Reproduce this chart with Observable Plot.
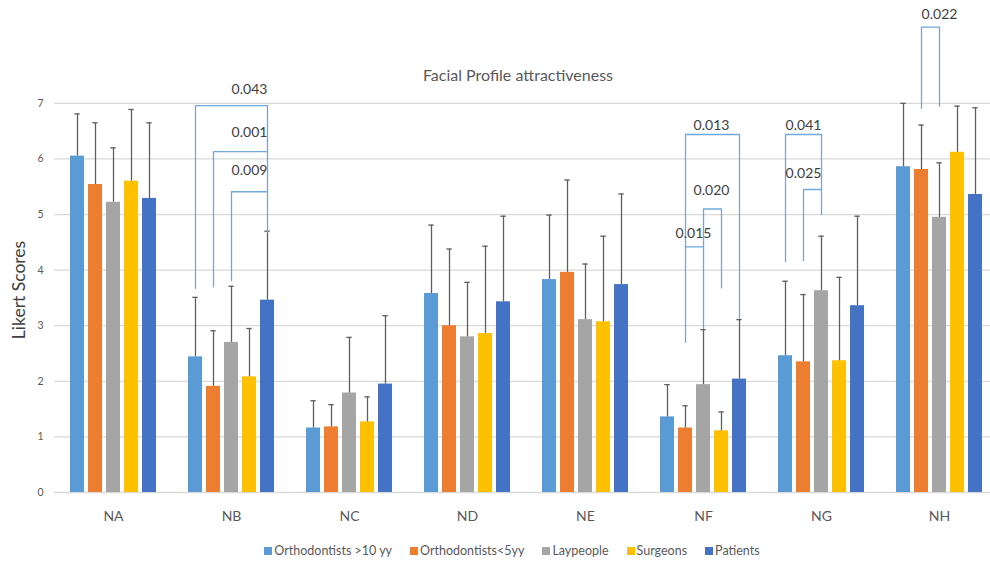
<!DOCTYPE html>
<html>
<head>
<meta charset="utf-8">
<script src="https://cdn.jsdelivr.net/npm/d3@7"></script>
<script src="https://cdn.jsdelivr.net/npm/@observablehq/plot@0.6"></script>
<style>
  html, body { margin: 0; padding: 0; background: #fff; }
  #wrap { position: relative; width: 990px; height: 563px; font-family: Lato, "Open Sans", sans-serif; }
  #title { position: absolute; left: 0; width: 1036px; top: 65px; text-align: center; font-size: 16px; color: #595959; }
  #ylabel { position: absolute; left: 18px; top: 290px; transform: translate(-50%, -50%) rotate(-90deg); font-size: 17.5px; color: #404040; white-space: nowrap; }
  #legend { position: absolute; left: 0; width: 1024px; top: 543px; text-align: center; font-size: 12.5px; color: #595959; white-space: nowrap; }
  #legend span.item { display: inline-block; margin: 0 9px; }
  #legend span.sw { display: inline-block; width: 8px; height: 8px; margin-right: 2px; vertical-align: 0px; }
  #chart svg [aria-label^="fx-axis"], #chart svg [aria-label^="fx-axis"] text { font-size: 14px; }
  #chart svg [aria-label^="y-axis"], #chart svg [aria-label^="y-axis"] text { font-size: 10.5px; }
</style>
</head>
<body>
<div id="wrap">
  <div id="chart"></div>
  <div id="title">Facial Profile attractiveness</div>
  <div id="ylabel">Likert Scores</div>
  <div id="legend"></div>
</div>
<script>
const groups = ["NA", "NB", "NC", "ND", "NE", "NF", "NG", "NH"];
const series = ["Orthodontists >10 yy", "Orthodontists<5yy", "Laypeople", "Surgeons", "Patients"];
const colors = ["#5B9BD5", "#ED7D31", "#A5A5A5", "#FFC000", "#4472C4"];
const yTicks = [0, 1, 2, 3, 4, 5, 6, 7];

// mean scores per group (NA..NH)
const orthoOver10Mean  = [6.05, 2.44, 1.16, 3.58, 3.83, 1.36, 2.46, 5.86];
const orthoUnder5Mean  = [5.54, 1.91, 1.18, 3.00, 3.96, 1.16, 2.35, 5.81];
const laypeopleMean    = [5.22, 2.70, 1.79, 2.80, 3.11, 1.94, 3.63, 4.95];
const surgeonsMean     = [5.60, 2.08, 1.27, 2.86, 3.07, 1.11, 2.37, 6.12];
const patientsMean     = [5.29, 3.46, 1.95, 3.43, 3.74, 2.04, 3.36, 5.36];
// upper end of the error bars (mean + SD)
const orthoOver10Upper = [6.81, 3.51, 1.65, 4.81, 4.99, 1.94, 3.80, 7.00];
const orthoUnder5Upper = [6.65, 2.91, 1.58, 4.38, 5.62, 1.56, 3.56, 6.61];
const laypeopleUpper   = [6.20, 3.71, 2.79, 3.78, 4.11, 2.93, 4.61, 5.93];
const surgeonsUpper    = [6.89, 2.95, 1.72, 4.43, 4.61, 1.45, 3.87, 6.95];
const patientsUpper    = [6.65, 4.70, 3.18, 4.97, 5.37, 3.11, 4.97, 6.92];

// significance brackets
const bracketGroup   = ["NB", "NB", "NB", "NF", "NF", "NF", "NG", "NG", "NH"];
const bracketFrom    = [0, 1, 2, 1, 2, 1, 0, 1, 1];
const bracketTo      = [4, 4, 4, 4, 3, 2, 2, 2, 2];
const bracketFromLow = [3.67, 3.70, 3.81, 2.70, 2.95, 4.42, 4.15, 4.17, 6.91];
const bracketTop     = [6.96, 6.13, 5.41, 6.44, 5.10, 4.42, 6.44, 5.45, 8.37];
const bracketToLow   = [4.68, 6.13, 5.41, 3.13, 3.68, 4.42, 5.00, 5.45, 6.95];
const pValues        = ["0.043", "0.001", "0.009", "0.013", "0.020", "0.015", "0.041", "0.025", "0.022"];
const pLabelSeries   = [3, 3, 3, 2, 2, 1, 1, 1, 2];
const pLabelY        = [7.24, 6.47, 5.79, 6.60, 5.43, 4.65, 6.60, 5.74, 8.60];

const meanArrays = [orthoOver10Mean, orthoUnder5Mean, laypeopleMean, surgeonsMean, patientsMean];
const upperArrays = [orthoOver10Upper, orthoUnder5Upper, laypeopleUpper, surgeonsUpper, patientsUpper];

const bars = [];
groups.forEach((g, gi) => {
  series.forEach((s, si) => {
    bars.push({group: g, series: s, mean: meanArrays[si][gi], upper: upperArrays[si][gi]});
  });
});

const bracketPts = [];
const labels = [];
bracketGroup.forEach((g, i) => {
  const a = series[bracketFrom[i]], b = series[bracketTo[i]];
  bracketPts.push({id: i, group: g, series: a, y: bracketFromLow[i]});
  bracketPts.push({id: i, group: g, series: a, y: bracketTop[i]});
  bracketPts.push({id: i, group: g, series: b, y: bracketTop[i]});
  bracketPts.push({id: i, group: g, series: b, y: bracketToLow[i]});
  labels.push({group: g, series: series[pLabelSeries[i]], y: pLabelY[i], text: pValues[i]});
});

const chart = Plot.plot({
  width: 990,
  height: 530,
  marginLeft: 52,
  marginRight: -9,
  marginTop: 0,
  marginBottom: 38,
  style: {fontFamily: "Lato, 'Open Sans', sans-serif", color: "#595959", background: "transparent"},
  fx: {domain: groups, padding: 0, label: null, axis: "bottom", tickSize: 0, tickPadding: 19},
  x: {domain: series, paddingInner: 0.2, paddingOuter: 0.85, axis: null},
  y: {domain: [0, 8.85], ticks: yTicks, tickSize: 0, tickPadding: 11, label: null, tickFormat: d3.format("d")},
  color: {domain: series, range: colors},
  marks: [
    Plot.ruleY(yTicks, {stroke: "#D9D9D9", strokeWidth: 1.3}),
    Plot.barY(bars, {fx: "group", x: "series", y: "mean", fill: "series"}),
    Plot.ruleX(bars, {fx: "group", x: "series", y1: "mean", y2: "upper", stroke: "#5f5f5f", strokeWidth: 1.3}),
    Plot.tickY(bars, {fx: "group", x: "series", y: "upper", stroke: "#5f5f5f", strokeWidth: 1.3, insetLeft: 4.3, insetRight: 4.3}),
    Plot.line(bracketPts, {fx: "group", x: "series", y: "y", z: "id", stroke: "#6FA8DC", strokeWidth: 1.3, curve: "linear"}),
    Plot.text(labels.filter(d => d.group !== "NF"), {fx: "group", x: "series", y: "y", text: "text", fill: "#404040", fontSize: 14}),
    Plot.text(labels.filter(d => d.group === "NF"), {fx: "group", x: "series", y: "y", text: "text", fill: "#404040", fontSize: 14, dx: 8})
  ]
});
document.getElementById("chart").appendChild(chart);

const legend = document.getElementById("legend");
series.forEach((s, i) => {
  const item = document.createElement("span");
  item.className = "item";
  const sw = document.createElement("span");
  sw.className = "sw";
  sw.style.background = colors[i];
  item.appendChild(sw);
  item.appendChild(document.createTextNode(s));
  legend.appendChild(item);
});
</script>
</body>
</html>
